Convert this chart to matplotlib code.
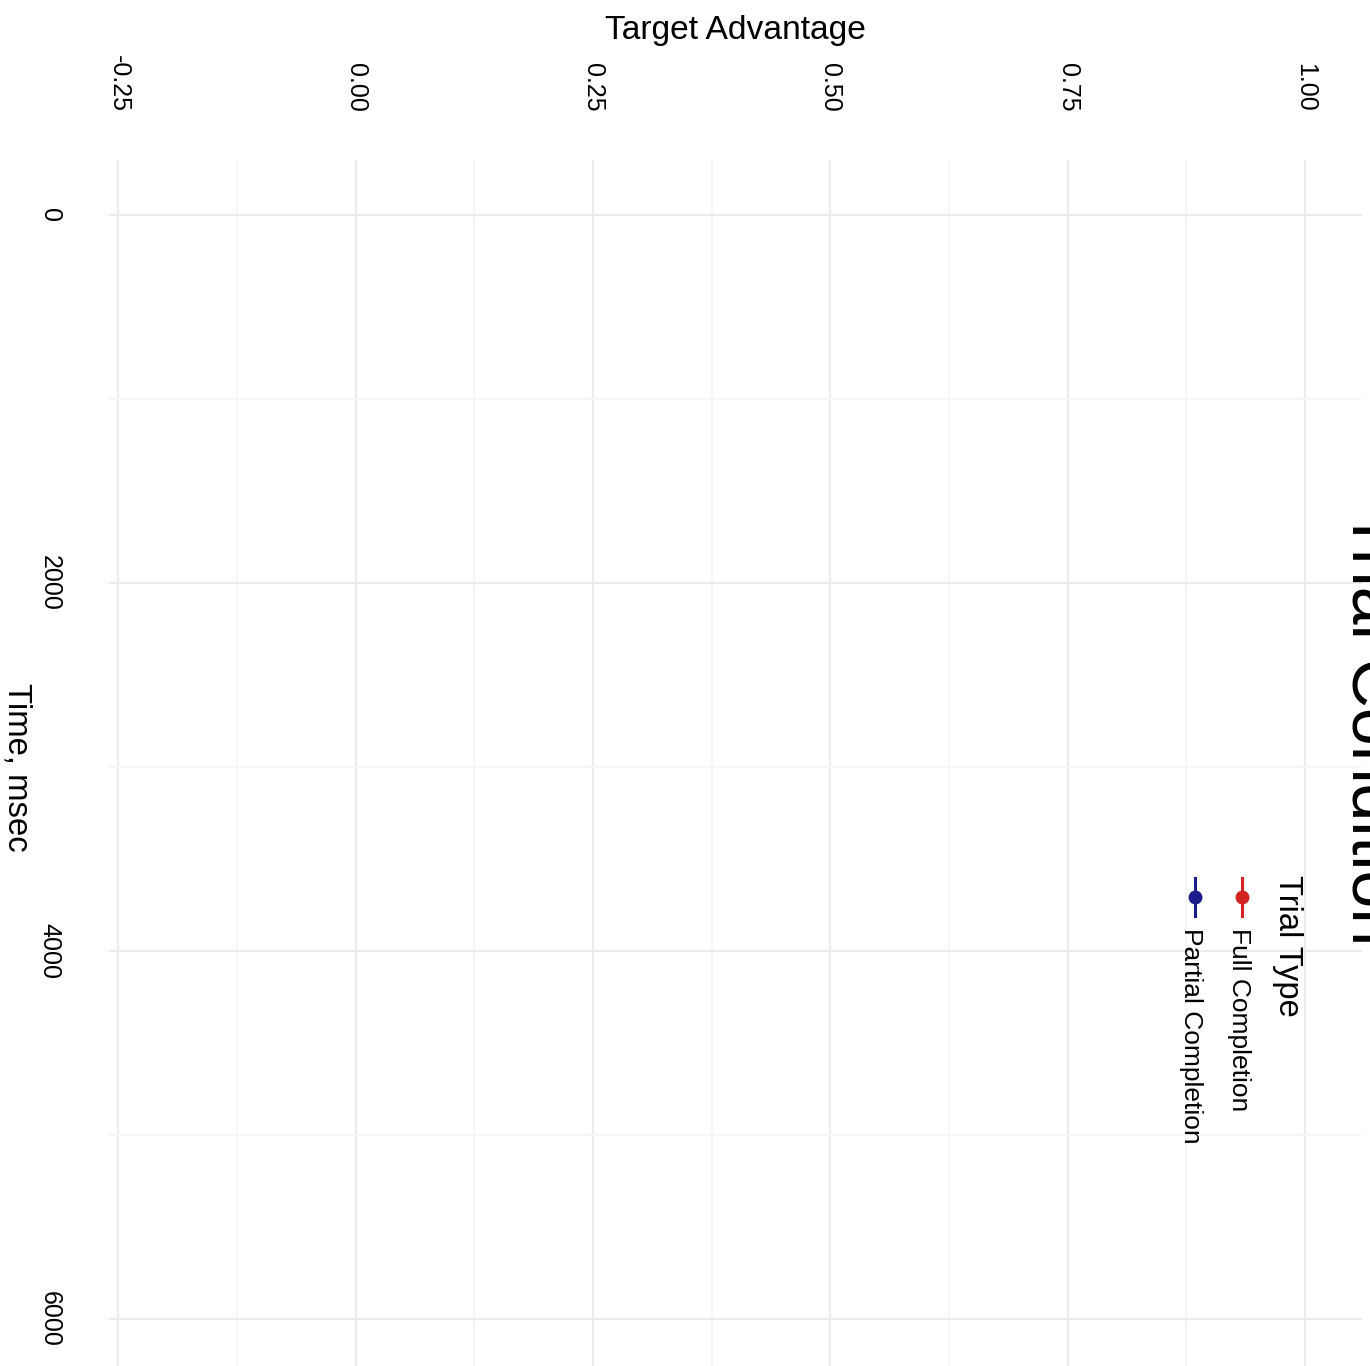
import matplotlib
matplotlib.use("Agg")
import matplotlib.pyplot as plt
from matplotlib.lines import Line2D

plt.rcParams['font.family'] = ['Liberation Sans', 'DejaVu Sans']

# ---- data ----
trial_types = ["Full Completion", "Partial Completion"]
trial_colors = ["#D22222", "#1C1C8C"]
time_ms = []            # no observations drawn in the reference
full_advantage = []
partial_advantage = []
adv_ticks = [-0.25, 0.00, 0.25, 0.50, 0.75, 1.00]
adv_tick_labels = ["-0.25", "0.00", "0.25", "0.50", "0.75", "1.00"]
time_ticks = [0, 2000, 4000, 6000]
time_tick_labels = ["0", "2000", "4000", "6000"]
adv_range = (-0.2, 1.0)
time_range = (0, 6000)

W, H = 1370, 1366
fig = plt.figure(figsize=(W / 100, H / 100), dpi=100)
fig.patch.set_facecolor("white")

def fx(px):
    return px / W

def fy(py):
    return 1 - py / H

left, right, top, bottom = 109, 1362, 160, 1374
ax = fig.add_axes([fx(left), fy(bottom), fx(right - left), (bottom - top) / H])
ax.set_facecolor("white")

for vals, col in zip([full_advantage, partial_advantage], trial_colors):
    ax.plot(vals, time_ms[:len(vals)], color=col, marker="o")

xr = adv_range[1] - adv_range[0]
ax.set_xlim(adv_range[0] - 0.05 * xr, adv_range[1] + 0.05 * xr)
yr = time_range[1] - time_range[0]
ax.set_ylim(time_range[1] + 0.05 * yr, time_range[0] - 0.05 * yr)

ax.set_xticks(adv_ticks)
ax.set_xticklabels(adv_tick_labels)
ax.set_xticks([(a + b) / 2 for a, b in zip(adv_ticks[:-1], adv_ticks[1:])], minor=True)
ax.set_yticks(time_ticks)
ax.set_yticklabels(time_tick_labels)
ax.set_yticks([(a + b) / 2 for a, b in zip(time_ticks[:-1], time_ticks[1:])], minor=True)

ax.xaxis.tick_top()
ax.tick_params(axis="x", which="both", length=0, pad=34.5, labelsize=18, labelrotation=-90)
ax.tick_params(axis="y", which="both", length=0, pad=34, labelsize=18, labelrotation=-90)
for lab in ax.get_yticklabels():
    lab.set_va("center")

ax.grid(which="major", color="#EBEBEB", linewidth=1.45)
ax.grid(which="minor", color="#F6F6F6", linewidth=1.3)
ax.set_axisbelow(True)
for s in ax.spines.values():
    s.set_visible(False)

# axis titles
fig.text(fx(735), fy(31), "Target Advantage", ha="center", va="center", fontsize=24.2)
fig.text(fx(17), fy(767), "Time, msec", ha="center", va="center", fontsize=23.7, rotation=-90)

# plot title (cut by the right edge, as in the reference)
fig.text(fx(1338), fy(727), "Trial Condition", ha="left", va="center", fontsize=49, rotation=-90)

# legend (drawn rotated)
fig.text(fx(1272), fy(875), "Trial Type", ha="left", va="top", fontsize=23.5, rotation=-90)
key_x = [1242, 1195]
lab_x = [1227, 1179]
for name, col, kx, lx in zip(trial_types, trial_colors, key_x, lab_x):
    fig.add_artist(Line2D([fx(kx), fx(kx)], [fy(878), fy(916)], color=col, linewidth=2.2,
                          transform=fig.transFigure))
    fig.add_artist(Line2D([fx(kx)], [fy(897)], color=col, marker="o", markersize=9,
                          linestyle="none", transform=fig.transFigure))
    fig.text(fx(lx), fy(928), name, ha="left", va="top", fontsize=19, rotation=-90)

fig.savefig("out.png", dpi=100, facecolor="white")
